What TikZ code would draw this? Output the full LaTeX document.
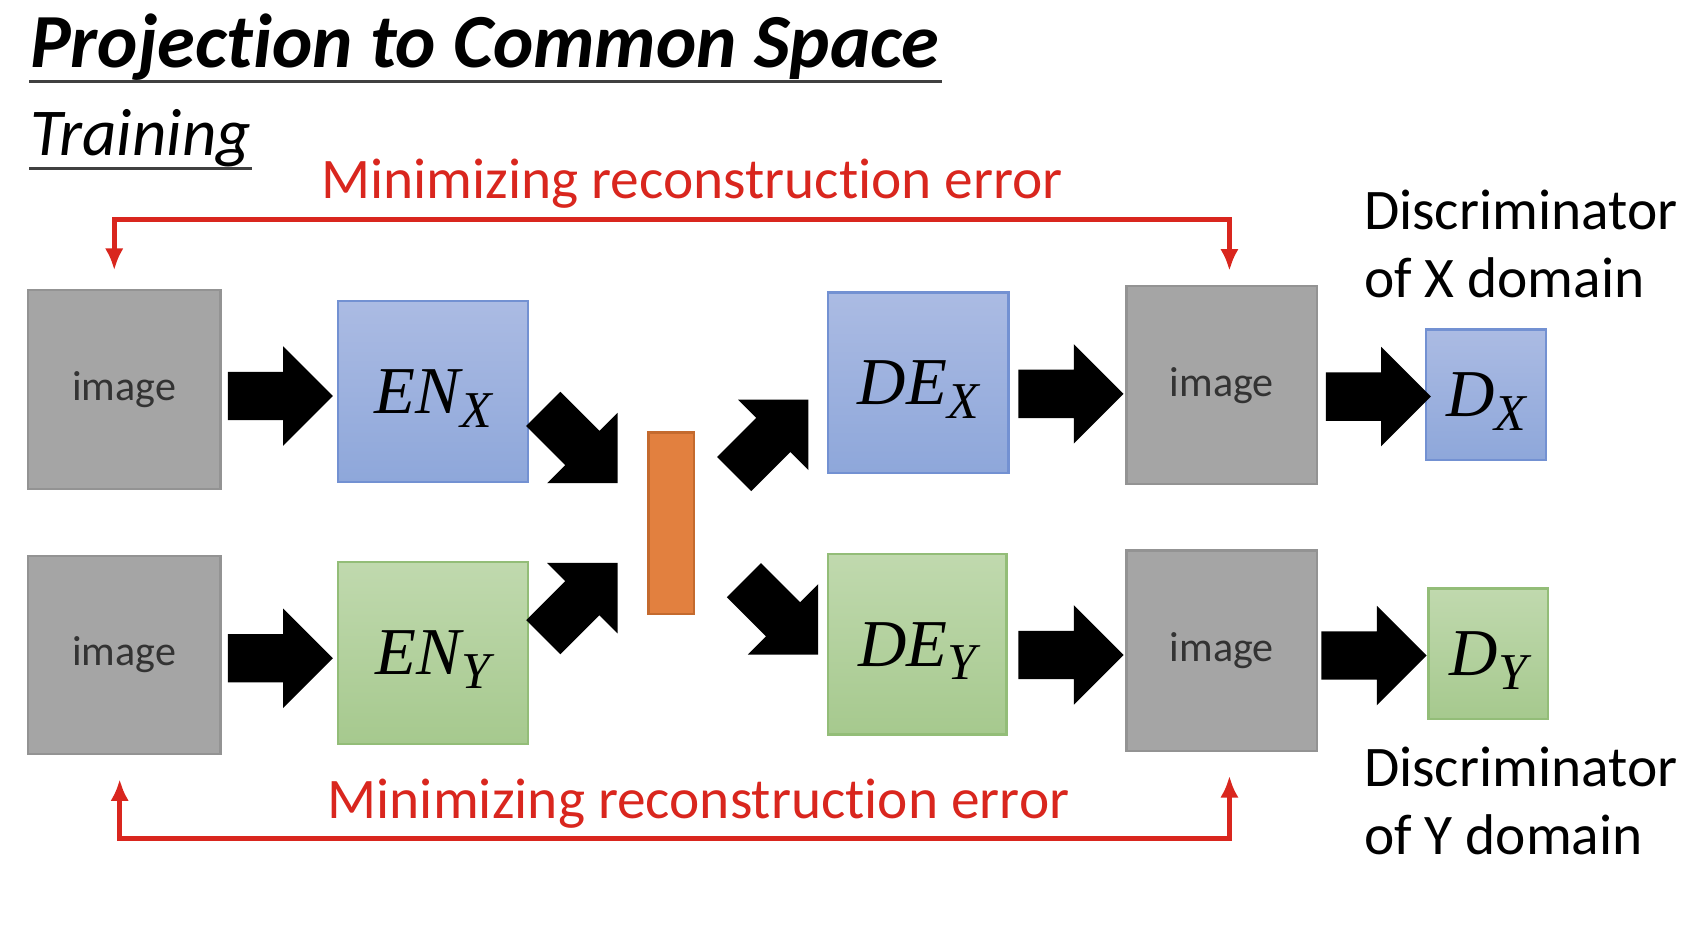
\documentclass[tikz,border=0pt]{standalone}
\usepackage{fontspec}
\setmainfont{Carlito}[Ligatures=NoCommon]
\newfontfamily\netfont{Liberation Serif}
\usepackage{tikz}
\usetikzlibrary{positioning,arrows.meta,shapes.arrows,calc}
\definecolor{imggray}{HTML}{A5A5A5}
\definecolor{imgedge}{HTML}{939393}
\definecolor{imgtext}{HTML}{333333}
\definecolor{bluetop}{HTML}{ABBBE3}
\definecolor{bluebot}{HTML}{8EA7DA}
\definecolor{blueedge}{HTML}{7391D2}
\definecolor{greentop}{HTML}{C0D9AE}
\definecolor{greenbot}{HTML}{A6C98E}
\definecolor{greenedge}{HTML}{93BD78}
\definecolor{codeorange}{HTML}{E2803F}
\definecolor{codeedge}{HTML}{C46A2E}
\definecolor{reconred}{HTML}{D9261E}
\newcommand{\netname}[2]{{\netfont\itshape #1\raisebox{-3.6pt}{\fontsize{13.5}{14}\selectfont #2}}}
\tikzset{
  box/.style={rectangle, draw, inner sep=0pt, line width=0.6pt},
  imgbox/.style={box, draw=imgedge, fill=imggray, minimum width=1.77cm, minimum height=1.83cm, text=imgtext, font=\fontsize{11}{13}\selectfont},
  bluebox/.style={box, draw=blueedge, top color=bluetop, bottom color=bluebot},
  greenbox/.style={box, draw=greenedge, top color=greentop, bottom color=greenbot},
  netbox/.style={minimum width=1.75cm, minimum height=1.66cm, font=\fontsize{17.5}{20}\selectfont, text depth=0pt},
  discbox/.style={minimum width=1.10cm, minimum height=1.20cm, font=\fontsize{17.5}{20}\selectfont, text depth=0pt},
  codebar/.style={box, draw=codeedge, fill=codeorange, minimum width=0.42cm, minimum height=1.67cm},
  blockarrow/.style={single arrow, fill=black, inner sep=0pt, text height=0.215cm, text depth=0.215cm,
                     minimum height=0.965cm, single arrow head extend=0.235cm, single arrow tip angle=90},
  recon/.style={draw=reconred, line width=1.3pt, {Latex[length=2mm,width=1.7mm]}-{Latex[length=2mm,width=1.7mm]}},
  recontext/.style={text=reconred, inner sep=0pt, font=\fontsize{15}{18}\selectfont},
  disctext/.style={align=left, anchor=west, inner sep=0pt, font=\fontsize{15}{17.9}\selectfont},
  titletext/.style={inner sep=0pt, font=\fontsize{20}{24}\selectfont\bfseries\itshape},
  subtitle/.style={inner sep=0pt, font=\fontsize{17.5}{21}\selectfont\itshape},
  underline/.style={draw=black!75, line width=0.8pt},
}

\begin{document}
\begin{tikzpicture}[x=0.01cm, y=-0.01cm]
\useasboundingbox (0,0) rectangle (1568,866);
%Titles
\node[titletext, anchor=base west] (title) at (27,62) {Projection to Common Space};
\draw[underline] ($(title.base west)+(0,13)$) -- ($(title.base east)+(2,13)$);
\node[subtitle, anchor=base west] (train) at (27,143) {Training};
\draw[underline] ($(train.base west)+(0,12)$) -- ($(train.base east)+(0,12)$);

%Nodes
\node[imgbox] (inx) at (114,358) {image};
\node[bluebox, netbox] (enx) at (398,360) {\netname{EN}{X}};
\node[codebar] (code) at (617,481) {};
\node[bluebox, netbox, minimum width=1.66cm] (dex) at (844,352) {\netname{DE}{X}};
\node[imgbox, minimum width=1.75cm, minimum height=1.82cm] (outx) at (1123,354) {image};
\node[bluebox, discbox] (dx) at (1366,363) {\netname{D}{X}};

\node[imgbox, minimum height=1.82cm] (iny) at (114,602) {image};
\node[greenbox, netbox, minimum height=1.67cm] (eny) at (398,600) {\netname{EN}{Y}};
\node[greenbox, netbox, minimum width=1.64cm] (dey) at (843,592) {\netname{DE}{Y}};
\node[imgbox, minimum width=1.75cm, minimum height=1.84cm] (outy) at (1123,598) {image};
\node[greenbox, discbox] (dy) at (1368,601) {\netname{D}{Y}};

%Block arrows
\node[blockarrow] (a1) at ($(inx.east)!0.5!(enx.west)+(-10,5)$) {};
\node[blockarrow, rotate=-45] (a2) at ($(enx.south east)+(39,-42)$) {};
\node[blockarrow, rotate=45] (a3) at ($(eny.north east)+(39,44)$) {};
\node[blockarrow, rotate=45] (a4) at ($(code.north east)+(62,13)$) {};
\node[blockarrow, rotate=-45] (a5) at ($(code.south east)+(71,-6)$) {};
\node[blockarrow] (a6) at ($(dex.east)!0.5!(outx.west)+(-8,9)$) {};
\node[blockarrow] (a7) at ($(outx.east)!0.5!(dx.west)+(-5,6)$) {};
\node[blockarrow] (a8) at ($(iny.east)!0.5!(eny.west)+(-10,4)$) {};
\node[blockarrow] (a9) at ($(dey.east)!0.5!(outy.west)+(-7,7)$) {};
\node[blockarrow] (a10) at ($(outy.east)!0.5!(dy.west)+(-10,3)$) {};

%Lines
\draw[recon] ($(inx.north)+(-9,-17)$) -- ++(0,-47) -| ($(outx.north)+(7,-13)$);
\draw[recon] ($(iny.south)+(-4,22)$) -- ++(0,55) -| ($(outy.south)+(7,22)$);

%Labels
\node[recontext, anchor=base] (topmsg) at (636,182) {Minimizing reconstruction error};
\node[recontext, anchor=base] (botmsg) at (642,752) {Minimizing reconstruction error};
\node[disctext] (dxlabel) at (1253,224) {Discriminator\\of X domain};
\node[disctext] (dylabel) at (1253,736) {Discriminator\\of Y domain};
\end{tikzpicture}
\end{document}
